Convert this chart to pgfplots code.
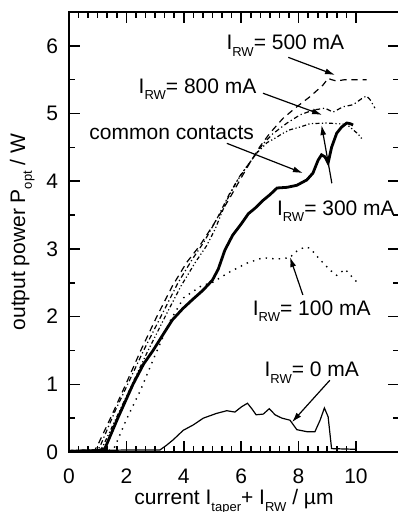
\documentclass[border=0pt]{standalone}
\usepackage{fontspec}
\setmainfont{Liberation Sans}
\setsansfont{Liberation Sans}
\usepackage{pgfplots}
\pgfplotsset{compat=1.18}
\usetikzlibrary{arrows.meta}
\newcommand\sub[1]{\raisebox{-3.3pt}{\fontsize{6.5}{7}\selectfont #1}}
\begin{document}
\begin{tikzpicture}
\begin{axis}[
  at={(0,0)}, anchor=south west,
  scale only axis, width=165pt, height=220pt,
  xmin=0, xmax=11.5, ymin=0, ymax=6.5,
  xtick={0,2,...,10}, ytick={0,1,...,6},
  minor x tick num=5, minor y tick num=1,
  tick align=inside, major tick length=5.5pt, minor tick length=3pt,
  axis line style={line width=1.1pt},
  tick style={line width=0.8pt, black},
  tick label style={font=\fontsize{10.5}{12}\selectfont},
  /pgf/number format/assume math mode=true,
  xticklabel style={yshift=-5pt}, yticklabel style={xshift=-2pt},
  label style={font=\fontsize{10.5}{12}\selectfont},
  xlabel={current I\sub{taper}+ I\sub{RW} / µm},
  ylabel={output power P\sub{opt} / W},
  xlabel style={yshift=4pt},
  ylabel style={yshift=-1pt},
  clip=false,
]
% common contacts
\addplot[black, line width=1.4pt] coordinates {
(0,0.01)(1.0,0.02)(1.25,0.05)(1.7,0.5)(2.23,1.0)(2.6,1.3)(2.93,1.5)(3.3,1.75)(3.6,1.95)(3.97,2.12)(4.3,2.25)(4.67,2.39)(5.0,2.54)(5.2,2.7)(5.43,2.98)(5.7,3.2)(6.02,3.38)(6.25,3.52)(6.48,3.6)(6.77,3.72)(7.0,3.8)(7.25,3.9)(7.6,3.91)(7.94,3.94)(8.29,4.02)(8.5,4.12)(8.68,4.31)(8.8,4.39)(8.92,4.36)(9.03,4.27)(9.15,4.5)(9.33,4.71)(9.5,4.8)(9.68,4.86)(9.8,4.85)(9.9,4.83)
};
% 0 mA
\addplot[black, line width=0.6pt] coordinates {
(0,0.02)(1,0.02)(2,0.03)(3.17,0.03)(3.4,0.1)(3.63,0.18)(3.98,0.32)(4.33,0.4)(4.68,0.5)(5.14,0.57)(5.5,0.61)(5.78,0.59)(6.02,0.67)(6.22,0.72)(6.37,0.64)(6.52,0.55)(6.77,0.56)(6.98,0.64)(7.18,0.55)(7.42,0.5)(7.7,0.47)(7.94,0.33)(8.29,0.3)(8.57,0.3)(8.75,0.47)(8.9,0.65)(9.03,0.52)(9.15,0.05)(9.97,0.04)
};
% 500 mA
\addplot[black, line width=0.6pt, dash pattern=on 3.2pt off 2.4pt] coordinates {
(0,0.02)(0.9,0.03)(1.0,0.1)(1.5,0.55)(2.0,1.02)(2.5,1.5)(3.06,2.0)(3.6,2.45)(4.1,2.8)(4.56,3.05)(5.02,3.35)(5.6,3.75)(5.96,4.02)(6.3,4.27)(6.65,4.51)(7.0,4.71)(7.46,4.93)(7.94,5.1)(8.4,5.25)(8.85,5.42)(9.03,5.52)(9.15,5.5)(9.33,5.48)(9.6,5.5)(10.37,5.5)
};
% 800 mA
\addplot[black, line width=0.6pt, dash pattern=on 2.4pt off 1.4pt on 0.6pt off 1.4pt] coordinates {
(0,0.02)(1.0,0.03)(1.1,0.1)(1.6,0.6)(2.1,1.05)(2.6,1.5)(3.2,2.0)(3.8,2.5)(4.3,2.85)(4.7,3.1)(5.16,3.45)(5.6,3.82)(5.96,4.08)(6.41,4.34)(6.76,4.55)(7.1,4.7)(7.6,4.86)(8.05,4.98)(8.5,5.05)(8.92,5.08)(9.2,5.02)(9.55,5.1)(9.9,5.13)(10.2,5.22)(10.37,5.26)(10.5,5.2)(10.66,5.08)
};
% 300 mA
\addplot[black, line width=0.6pt, dash pattern=on 2pt off 1.2pt on 0.6pt off 1.2pt on 0.6pt off 1.2pt] coordinates {
(0,0.02)(1.1,0.03)(1.2,0.1)(1.7,0.55)(2.2,1.0)(2.7,1.45)(3.35,2.0)(3.9,2.45)(4.4,2.8)(4.8,3.05)(5.1,3.3)(5.5,3.72)(5.85,4.0)(6.2,4.22)(6.55,4.42)(6.9,4.57)(7.24,4.65)(7.42,4.7)(7.7,4.76)(8.05,4.8)(8.4,4.85)(9.0,4.86)(9.68,4.84)(9.9,4.76)(10.07,4.7)(10.2,4.63)
};
% 100 mA
\addplot[black, line width=0.7pt, dash pattern=on 0.7pt off 2.6pt] coordinates {
(0,0.02)(1.5,0.03)(1.6,0.08)(2.0,0.48)(2.5,0.92)(2.93,1.36)(3.5,1.92)(4.0,2.28)(4.6,2.45)(5.02,2.51)(5.6,2.66)(6.2,2.79)(6.76,2.87)(7.24,2.85)(7.7,2.87)(7.87,2.95)(8.22,3.03)(8.4,3.01)(8.75,2.84)(9.09,2.69)(9.33,2.61)(9.62,2.7)(10.03,2.51)
};
% annotations
\begin{scope}[font=\fontsize{10.5}{12}\selectfont]
\node[anchor=base, inner sep=0pt] at (axis cs:7.54,5.94) {I\sub{RW}= 500 mA};
\node[anchor=base, inner sep=0pt] at (axis cs:4.48,5.30) {I\sub{RW}= 800 mA};
\node[anchor=base, inner sep=0pt] at (axis cs:3.58,4.61) {common contacts};
\node[anchor=base, inner sep=0pt] at (axis cs:9.30,3.50) {I\sub{RW}= 300 mA};
\node[anchor=base, inner sep=0pt] at (axis cs:8.46,2.02) {I\sub{RW}= 100 mA};
\node[anchor=base, inner sep=0pt] at (axis cs:8.46,1.11) {I\sub{RW}= 0 mA};
\end{scope}
\begin{scope}[line width=0.6pt, -{Latex[length=5pt,width=3pt]}]
\draw (axis cs:7.64,5.83) -- (axis cs:9.27,5.57);
\draw (axis cs:6.76,5.30) -- (axis cs:8.82,4.98);
\draw (axis cs:5.5,4.56) -- (axis cs:8.15,4.12);
\draw (axis cs:9.16,3.97) -- (axis cs:8.8,4.83);
\draw (axis cs:8.15,2.32) -- (axis cs:7.70,2.88);
\draw (axis cs:9.09,1.06) -- (axis cs:7.77,0.44);
\end{scope}
\end{axis}
\pgfresetboundingbox
\path (-34.5pt,-30pt) rectangle (164.3pt,226pt);
\end{tikzpicture}
\end{document}
